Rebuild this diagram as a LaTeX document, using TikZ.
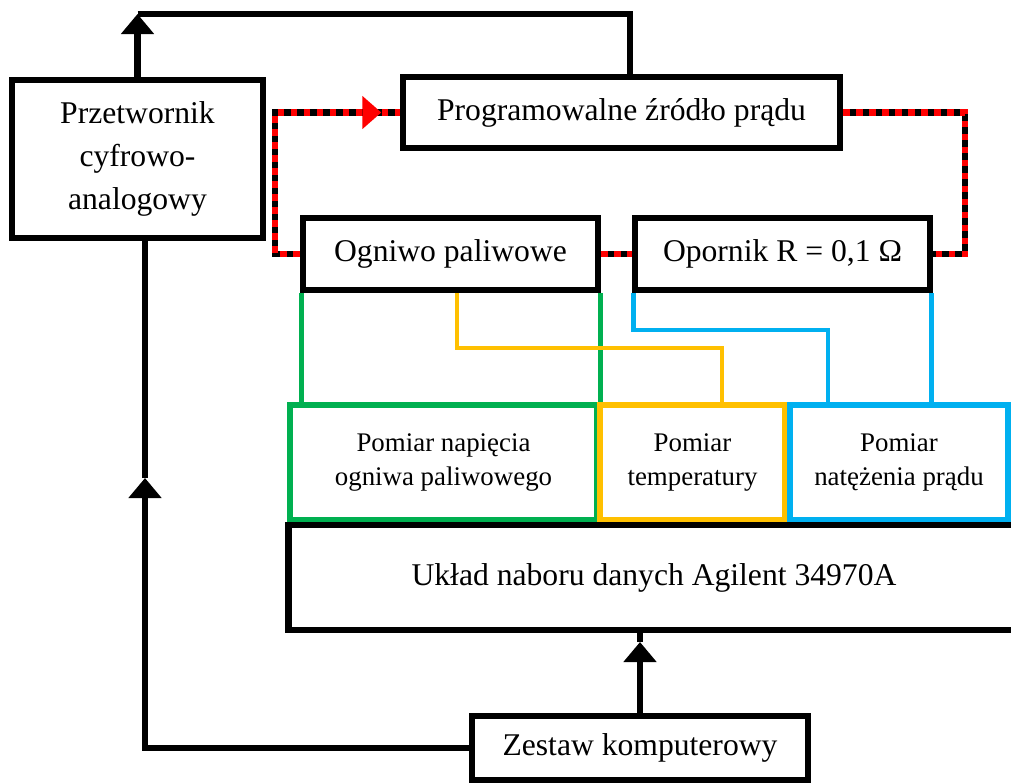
\documentclass[tikz,border=0pt]{standalone}
\usepackage{fontspec}
\setmainfont{Liberation Serif}
\usetikzlibrary{arrows.meta,backgrounds,decorations.markings}

\definecolor{wireGreen}{RGB}{0,176,80}
\definecolor{wireYellow}{RGB}{255,192,0}
\definecolor{wireBlue}{RGB}{0,176,240}

\begin{document}
\begin{tikzpicture}[x=0.02cm, y=-0.02cm]
  \tikzset{BlockStyle/.style={draw=black, line width=3.9pt, fill=white,
      inner sep=0pt, align=center, font=\fontsize{18}{24.4}\selectfont}}
  \tikzset{MeasStyle/.style={draw=#1, line width=3.4pt, fill=white,
      inner sep=0pt, align=center, minimum height=2.3cm,
      font=\fontsize{15.3}{19}\selectfont}}
  \tikzset{SignalStyle/.style={draw=black, line width=3.8pt}}
  \tikzset{FlowStyle/.style={SignalStyle, -{Triangle[length=0.4cm, width=0.64cm]}}}
  \tikzset{PowerStyle/.style={preaction={draw=black, line width=3.8pt},
      draw=red, line width=3.8pt, dash pattern=on 3.7pt off 3.7pt}}
  \tikzset{WireStyle/.style={draw=#1, line width=2.7pt}}

  \useasboundingbox (0,0) rectangle (1011,782);
  \clip (0,0) rectangle (1011,782);

  \node[BlockStyle, minimum width=5.02cm, minimum height=3.16cm] (dac) at (137.5,159)
    {Przetwornik\\cyfrowo-\\analogowy};
  \node[BlockStyle, minimum width=8.74cm, minimum height=1.42cm] (prog) at (621.5,112.5)
    {Programowalne źródło prądu};
  \node[BlockStyle, minimum width=5.9cm, minimum height=1.44cm] (fc) at (450.5,254)
    {Ogniwo paliwowe};
  \node[BlockStyle, minimum width=5.9cm, minimum height=1.44cm] (res) at (782.5,254)
    {Opornik R = 0,1 Ω};

  \node[MeasStyle=wireGreen, minimum width=6.14cm] (volt) at (443.5,462.5)
    {Pomiar napięcia\\ogniwa paliwowego};
  \node[MeasStyle=wireYellow, minimum width=3.7cm] (temp) at (692.5,462.5)
    {Pomiar\\temperatury};
  \node[MeasStyle=wireBlue, minimum width=4.36cm] (curr) at (899,462.5)
    {Pomiar\\natężenia prądu};

  \node[BlockStyle, minimum width=14.64cm, minimum height=2.1cm] (daq) at (654,577.5)
    {Układ naboru danych Agilent 34970A};
  \node[BlockStyle, minimum width=6.72cm, minimum height=1.28cm] (pc) at (640,748)
    {Zestaw komputerowy};

  \coordinate (topL) at (137.5,14);
  \coordinate (topR) at (630,14);
  \coordinate (midL) at (145,478);
  \coordinate (midB) at (640,642);
  \coordinate (lpA) at (275,112.5);
  \coordinate (lpB) at (965,254);
  \coordinate (yl) at (722,348);
  \coordinate (bl) at (828,330);

  \begin{pgfonlayer}{background}
    \draw[FlowStyle] (dac.north) -- (topL);
    \draw[SignalStyle] (topL) -- (topR) -- (topR |- prog.north);
    \draw[FlowStyle] (pc.west) -| (midL);
    \draw[SignalStyle] (midL) -- (midL |- dac.south);
    \draw[FlowStyle] (pc.north) -- (midB);
    \draw[SignalStyle] (midB) -- (midB |- daq.south);

    \draw[PowerStyle, postaction={decorate, decoration={markings,
        mark=at position 5.45cm with {\arrow[red]{Triangle[length=0.38cm, width=0.64cm]}}}}]
      (fc.west) -| (lpA) -- (prog.west);
    \draw[PowerStyle] (prog.east) -| (lpB) -- (res.east);
    \draw[PowerStyle] (fc.east) -- (res.west);

    \draw[WireStyle=wireGreen] ([xshift=0.04cm]fc.south west) -- ([xshift=0.04cm]fc.south west |- volt.north);
    \draw[WireStyle=wireGreen] ([xshift=-0.02cm]fc.south east) -- ([xshift=-0.02cm]fc.south east |- volt.north);
    \draw[WireStyle=wireYellow] ([xshift=0.13cm]fc.south) |- (yl) -- (yl |- temp.north);
    \draw[WireStyle=wireBlue] ([xshift=0.04cm]res.south west) |- (bl) -- (bl |- curr.north);
    \draw[WireStyle=wireBlue] ([xshift=-0.04cm]res.south east) -- ([xshift=-0.04cm]res.south east |- curr.north);
  \end{pgfonlayer}
\end{tikzpicture}
\end{document}
